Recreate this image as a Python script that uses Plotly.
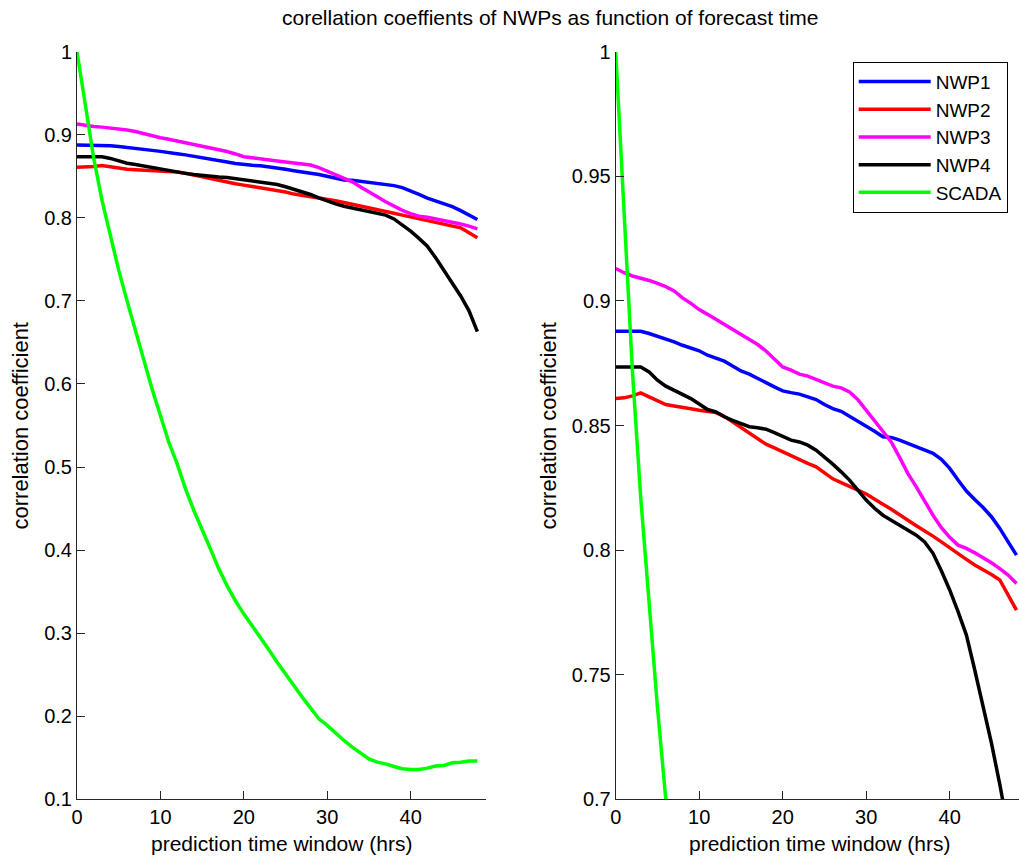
import plotly.graph_objects as go

hours = list(range(49))

nwp1 = [0.8878, 0.8878, 0.8878, 0.8878, 0.8869, 0.8858, 0.8849, 0.8836, 0.8822, 0.8812,
        0.8800, 0.8782, 0.8771, 0.8758, 0.8739, 0.8719, 0.8706, 0.8687, 0.8672, 0.8655,
        0.8639, 0.8632, 0.8626, 0.8615, 0.8604, 0.8584, 0.8568, 0.8557, 0.8537, 0.8521,
        0.8501, 0.8477, 0.8455, 0.8452, 0.8441, 0.8428, 0.8414, 0.8404, 0.8388, 0.8364,
        0.8328, 0.8281, 0.8237, 0.8203, 0.8171, 0.8134, 0.8087, 0.8033, 0.7980]
nwp2 = [0.8608, 0.8611, 0.8619, 0.8631, 0.8615, 0.8599, 0.8584, 0.8578, 0.8574, 0.8567,
        0.8561, 0.8556, 0.8552, 0.8537, 0.8515, 0.8491, 0.8471, 0.8451, 0.8425, 0.8410,
        0.8394, 0.8378, 0.8364, 0.8348, 0.8334, 0.8310, 0.8286, 0.8271, 0.8257, 0.8241,
        0.8225, 0.8206, 0.8184, 0.8164, 0.8144, 0.8120, 0.8098, 0.8078, 0.8056, 0.8033,
        0.8011, 0.7987, 0.7963, 0.7940, 0.7922, 0.7902, 0.7880, 0.7820, 0.7759]
nwp3 = [0.9130, 0.9113, 0.9100, 0.9092, 0.9082, 0.9070, 0.9057, 0.9040, 0.9012, 0.8990,
        0.8965, 0.8946, 0.8926, 0.8905, 0.8885, 0.8862, 0.8842, 0.8825, 0.8799, 0.8769,
        0.8735, 0.8722, 0.8706, 0.8698, 0.8684, 0.8671, 0.8658, 0.8651, 0.8635, 0.8604,
        0.8561, 0.8521, 0.8479, 0.8434, 0.8372, 0.8307, 0.8254, 0.8194, 0.8140, 0.8090,
        0.8051, 0.8020, 0.8007, 0.7989, 0.7971, 0.7949, 0.7926, 0.7900, 0.7866]
nwp4 = [0.8735, 0.8735, 0.8735, 0.8735, 0.8715, 0.8682, 0.8658, 0.8642, 0.8624, 0.8608,
        0.8586, 0.8564, 0.8555, 0.8535, 0.8521, 0.8508, 0.8495, 0.8491, 0.8485, 0.8471,
        0.8457, 0.8441, 0.8434, 0.8421, 0.8401, 0.8374, 0.8345, 0.8314, 0.8281, 0.8241,
        0.8201, 0.8168, 0.8140, 0.8120, 0.8100, 0.8080, 0.8060, 0.8033, 0.7987, 0.7917,
        0.7840, 0.7753, 0.7659, 0.7519, 0.7372, 0.7225, 0.7060, 0.6880, 0.6630]
scada = [1.0, 0.935, 0.872, 0.821, 0.777, 0.737, 0.700, 0.664, 0.628, 0.594,
         0.562, 0.530, 0.504, 0.474, 0.448, 0.4235, 0.4014, 0.3774, 0.357, 0.339,
         0.323, 0.309, 0.2952, 0.280, 0.265, 0.2518, 0.237, 0.223, 0.2097, 0.1969,
         0.1889, 0.1796, 0.1708, 0.1628, 0.1556, 0.1487, 0.1447, 0.1427, 0.1395, 0.1367,
         0.136, 0.136, 0.1375, 0.140, 0.1407, 0.144, 0.1447, 0.146, 0.146]

series_names = ["NWP1", "NWP2", "NWP3", "NWP4", "SCADA"]
series_values = [nwp1, nwp2, nwp3, nwp4, scada]
series_colors = ["#0000ff", "#ff0000", "#ff00ff", "#000000", "#00ff00"]

x_ticks = [0, 10, 20, 30, 40]
left_y_ticks = [0.1, 0.2, 0.3, 0.4, 0.5, 0.6, 0.7, 0.8, 0.9, 1.0]
left_y_labels = ["0.1", "0.2", "0.3", "0.4", "0.5", "0.6", "0.7", "0.8", "0.9", "1"]
right_y_ticks = [0.7, 0.75, 0.8, 0.85, 0.9, 0.95, 1.0]
right_y_labels = ["0.7", "0.75", "0.8", "0.85", "0.9", "0.95", "1"]

title_text = "corellation coeffients of NWPs as function of forecast time"
x_title = "prediction time window (hrs)"
y_title = "correlation coefficient"

FONT = "Liberation Sans, Arial, sans-serif"
W, H = 1019, 857

fig = go.Figure()
for name, vals, col in zip(series_names, series_values, series_colors):
    fig.add_trace(go.Scatter(x=hours, y=vals, mode="lines", name=name,
                             line=dict(color=col, width=3.5),
                             xaxis="x", yaxis="y", showlegend=False))
for name, vals, col in zip(series_names, series_values, series_colors):
    fig.add_trace(go.Scatter(x=hours, y=vals, mode="lines", name=name,
                             line=dict(color=col, width=3.5),
                             xaxis="x2", yaxis="y2", showlegend=True))

# pixel geometry
yd = [(H - 799.3) / H, (H - 51.7) / H]
xd1 = [77 / W, 485.7 / W]
xd2 = [615.7 / W, 1.0]

axis_common = dict(showgrid=False, zeroline=False, showline=True, linecolor="#262626",
                   linewidth=1, ticks="inside", ticklen=8, tickcolor="#262626",
                   tickfont=dict(family=FONT, size=20, color="black"), automargin=False)

fig.update_layout(
    width=W, height=H,
    margin=dict(l=0, r=0, t=0, b=0),
    paper_bgcolor="white", plot_bgcolor="white",
    font=dict(family=FONT, size=20, color="black"),
    xaxis=dict(domain=xd1, range=[0, 49], tickvals=x_ticks, anchor="y", **axis_common),
    yaxis=dict(domain=yd, range=[0.1, 1.0], tickvals=left_y_ticks, ticktext=left_y_labels,
               anchor="x", ticklabelstandoff=0, **axis_common),
    xaxis2=dict(domain=xd2, range=[0, 48.3], tickvals=x_ticks, anchor="y2", **axis_common),
    yaxis2=dict(domain=yd, range=[0.7, 1.0], tickvals=right_y_ticks, ticktext=right_y_labels,
                anchor="x2", ticklabelstandoff=0, **axis_common),
    legend=dict(x=852.7 / W, y=1 - 61.7 / H, xanchor="left", yanchor="top",
                bgcolor="white", bordercolor="black", borderwidth=1,
                font=dict(family=FONT, size=19, color="black"),
                tracegroupgap=0, itemwidth=72),
    showlegend=True,
)

ann = [
    dict(text=title_text, x=550 / W, y=1 - 17 / H, xref="paper", yref="paper",
         xanchor="center", yanchor="middle", showarrow=False,
         font=dict(family=FONT, size=21, color="black")),
    dict(text=x_title, x=281.4 / W, y=1 - 843 / H, xref="paper", yref="paper",
         xanchor="center", yanchor="middle", showarrow=False,
         font=dict(family=FONT, size=21, color="black")),
    dict(text=x_title, x=819.5 / W, y=1 - 843 / H, xref="paper", yref="paper",
         xanchor="center", yanchor="middle", showarrow=False,
         font=dict(family=FONT, size=21, color="black")),
    dict(text=y_title, x=20 / W, y=1 - 425.5 / H, xref="paper", yref="paper",
         xanchor="center", yanchor="middle", showarrow=False, textangle=-90,
         font=dict(family=FONT, size=22, color="black")),
    dict(text=y_title, x=548 / W, y=1 - 425.5 / H, xref="paper", yref="paper",
         xanchor="center", yanchor="middle", showarrow=False, textangle=-90,
         font=dict(family=FONT, size=22, color="black")),
]
fig.update_layout(annotations=ann)

fig.write_html("out.html", config={"displayModeBar": False},
               post_script="document.body.style.margin='0px';document.body.style.padding='0px';")
